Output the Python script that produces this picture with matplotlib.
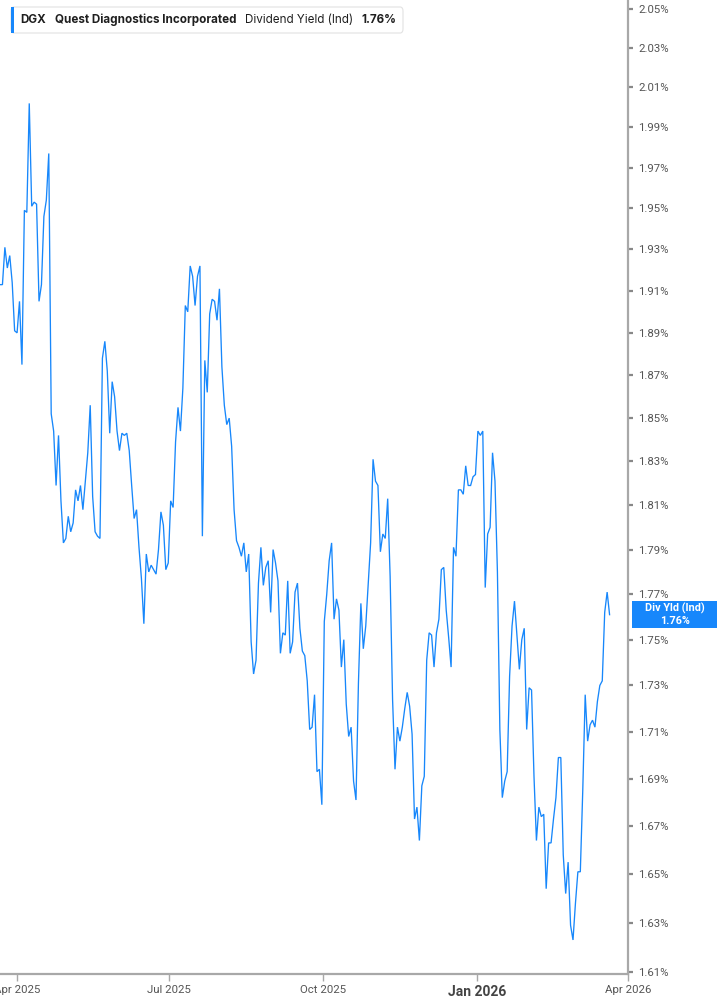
import matplotlib
matplotlib.use('Agg')
import matplotlib.pyplot as plt
from matplotlib.ticker import FixedLocator, NullLocator, FixedFormatter
from matplotlib.patches import FancyBboxPatch, Rectangle
import matplotlib.dates as mdates
import pandas as pd

plt.rcParams['font.family'] = ['Roboto', 'DejaVu Sans']

# ---------------- data ----------------
yield_pct = [
    1.913, 1.913, 1.931, 1.921, 1.927, 1.914, 1.891, 1.890, 1.905, 1.875,
    1.949, 1.948, 2.002, 1.951, 1.953, 1.952, 1.905, 1.913, 1.946, 1.954,
    1.977, 1.852, 1.844, 1.819, 1.842, 1.812, 1.793, 1.795, 1.805, 1.798,
    1.802, 1.817, 1.812, 1.819, 1.808, 1.821, 1.834, 1.856, 1.814, 1.798,
    1.796, 1.795, 1.878, 1.886, 1.872, 1.843, 1.867, 1.860, 1.844, 1.835,
    1.843, 1.842, 1.843, 1.835, 1.819, 1.804, 1.808, 1.791, 1.777, 1.757,
    1.788, 1.780, 1.783, 1.781, 1.779, 1.790, 1.807, 1.801, 1.781, 1.784,
    1.812, 1.809, 1.839, 1.855, 1.844, 1.864, 1.903, 1.900, 1.922, 1.917,
    1.903, 1.917, 1.922, 1.796, 1.877, 1.862, 1.899, 1.906, 1.905, 1.896,
    1.911, 1.874, 1.856, 1.847, 1.850, 1.837, 1.808, 1.794, 1.791, 1.787,
    1.793, 1.780, 1.788, 1.749, 1.735, 1.741, 1.775, 1.791, 1.774, 1.782,
    1.785, 1.762, 1.790, 1.784, 1.776, 1.744, 1.753, 1.752, 1.776, 1.744,
    1.749, 1.771, 1.775, 1.755, 1.745, 1.743, 1.732, 1.711, 1.712, 1.726,
    1.693, 1.694, 1.679, 1.758, 1.770, 1.785, 1.793, 1.759, 1.768, 1.763,
    1.738, 1.750, 1.722, 1.708, 1.712, 1.689, 1.681, 1.731, 1.766, 1.746,
    1.756, 1.774, 1.793, 1.831, 1.821, 1.819, 1.789, 1.797, 1.795, 1.813,
    1.778, 1.724, 1.694, 1.712, 1.706, 1.712, 1.720, 1.727, 1.721, 1.709,
    1.673, 1.678, 1.664, 1.687, 1.691, 1.741, 1.753, 1.752, 1.738, 1.753,
    1.759, 1.781, 1.782, 1.763, 1.751, 1.738, 1.791, 1.787, 1.817, 1.817,
    1.815, 1.828, 1.819, 1.819, 1.823, 1.824, 1.844, 1.842, 1.844, 1.773,
    1.797, 1.800, 1.834, 1.821, 1.780, 1.711, 1.682, 1.689, 1.693, 1.734,
    1.756, 1.767, 1.752, 1.737, 1.750, 1.755, 1.711, 1.729, 1.728, 1.691,
    1.664, 1.678, 1.674, 1.675, 1.644, 1.663, 1.663, 1.673, 1.682, 1.699,
    1.699, 1.658, 1.642, 1.655, 1.629, 1.623, 1.638, 1.651, 1.651, 1.685,
    1.726, 1.706, 1.713, 1.715, 1.712, 1.723, 1.730, 1.732, 1.762, 1.771,
    1.761,
]
first_date = '2025-03-22'
last_date = '2026-03-21'
axis_end = '2026-04-01'

y_ticks = [1.61, 1.63, 1.65, 1.67, 1.69, 1.71, 1.73, 1.75, 1.77, 1.79, 1.81,
           1.83, 1.85, 1.87, 1.89, 1.91, 1.93, 1.95, 1.97, 1.99, 2.01, 2.03, 2.05]
y_tick_labels = [f'{v:.2f}%' for v in y_ticks]
x_tick_dates = ['2025-04-01', '2025-07-01', '2025-10-01', '2026-01-01', '2026-04-01']
x_tick_labels = ['Apr 2025', 'Jul 2025', 'Oct 2025', 'Jan 2026', 'Apr 2026']

ticker = 'DGX'
company = 'Quest Diagnostics Incorporated'
metric = 'Dividend Yield (Ind)'
last_label = 'Div Yld (Ind)'
last_value_text = f'{yield_pct[-1]:.2f}%'

BLUE = '#1787fb'
GRID = '#a8a8a8'
TXT = '#555555'

# ---------------- figure ----------------
W, H = 717, 1005
fig = plt.figure(figsize=(W / 100, H / 100), dpi=100)
fig.patch.set_facecolor('white')

ax = fig.add_axes([0, 31 / H, 628 / W, 974 / H])
dates = pd.date_range(first_date, last_date, periods=len(yield_pct))
ax.plot(dates, yield_pct, color=BLUE, lw=0.95, solid_joinstyle='miter')

ax.set_yscale('log')
ax.set_ylim(1.6092, 2.0546)
ax.set_xlim(pd.Timestamp(first_date), pd.Timestamp(axis_end))

# y axis on right
ax.yaxis.tick_right()
ax.yaxis.set_major_locator(FixedLocator(y_ticks))
ax.yaxis.set_major_formatter(FixedFormatter(y_tick_labels))
ax.yaxis.set_minor_locator(NullLocator())
ax.tick_params(axis='y', which='major', length=3.5, width=1.6, color='#888888',
               labelsize=8.2, labelcolor=TXT, pad=4)

# x axis
xt = [mdates.date2num(pd.Timestamp(d)) for d in x_tick_dates]
ax.xaxis.set_major_locator(FixedLocator(xt))
ax.xaxis.set_major_formatter(FixedFormatter(x_tick_labels))
ax.xaxis.set_minor_locator(NullLocator())
ax.tick_params(axis='x', which='major', length=5, width=1.0, color=GRID,
               labelsize=8.2, labelcolor=TXT, pad=3)
for lab in ax.get_xticklabels():
    if lab.get_text() == 'Jan 2026':
        lab.set_fontweight('bold')
        lab.set_fontsize(10)
        lab.set_color('#444444')

for s in ['left', 'top']:
    ax.spines[s].set_visible(False)
for s in ['right', 'bottom']:
    ax.spines[s].set_color(GRID)
    ax.spines[s].set_linewidth(1.6)

fig.canvas.draw()
renderer = fig.canvas.get_renderer()

# ---------------- last value label ----------------
_, ylast = ax.transData.transform((mdates.date2num(dates[-1]), yield_pct[-1]))
ytop_px = H - ylast  # from top
box_h = 27
fig.patches.append(Rectangle((632 / W, 1 - (ytop_px + box_h / 2) / H), (W - 632) / W, box_h / H,
                             transform=fig.transFigure, facecolor=BLUE, edgecolor='none', zorder=5))
fig.text(675 / W, 1 - (ytop_px - 6) / H, last_label, color='white', weight='bold', size=7.8,
         ha='center', va='center', zorder=6)
fig.text(675 / W, 1 - (ytop_px + 6) / H, last_value_text, color='white', weight='bold', size=7.8,
         ha='center', va='center', zorder=6)

# ---------------- header legend ----------------
lx0, ly0, lx1, ly1 = 11, 7, 403, 33
fig.patches.append(FancyBboxPatch((lx0 / W, 1 - ly1 / H), (lx1 - lx0) / W, (ly1 - ly0) / H,
                                  boxstyle='round,pad=0,rounding_size=0.004',
                                  transform=fig.transFigure, facecolor='white',
                                  edgecolor='#e2e2e2', lw=0.8, zorder=5))
fig.patches.append(Rectangle((lx0 / W, 1 - ly1 / H), 3 / W, (ly1 - ly0) / H,
                             transform=fig.transFigure, facecolor=BLUE, edgecolor='none', zorder=6))
ymid = 1 - 20 / H
parts = [(ticker, 'bold', 9), (company, 'bold', 9), (metric, 'normal', 8), (last_value_text, 'bold', 8)]
x = 20
for text, wt, gap in parts:
    t = fig.text(x / W, ymid, text, weight=wt, size=8.4, color='#1f1f1f', ha='left', va='center',
                 zorder=7, family=['Inter', 'Roboto', 'DejaVu Sans'])
    bb = t.get_window_extent(renderer)
    x = bb.x1 + gap

fig.savefig('out.png', dpi=100, facecolor='white')
